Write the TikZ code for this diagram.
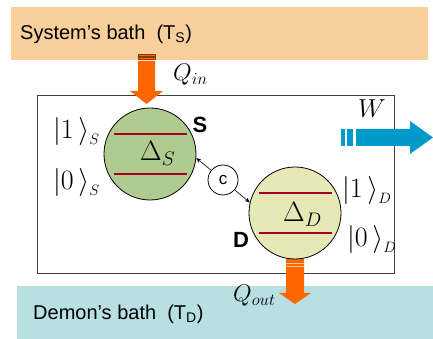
\documentclass[tikz,border=0pt]{standalone}
\usepackage{fix-cm}
\usepackage{amsmath}
\usepackage{fontspec}
\setmainfont{Liberation Sans}
\usetikzlibrary{arrows.meta}
\definecolor{sysbathcol}{HTML}{F9CF9B}
\definecolor{demonbathcol}{HTML}{B8E0E2}
\definecolor{sgreen}{HTML}{AFCB8F}
\definecolor{dyellow}{HTML}{E6E9B5}
\definecolor{levelred}{HTML}{A50021}
\definecolor{heat}{HTML}{FF6600}
\definecolor{heatline}{HTML}{8A3A00}
\definecolor{workblue}{HTML}{0099CC}
\newcommand{\ketlbl}[2]{$|#1\,\rangle$\raisebox{-6pt}{\fontsize{15}{16}\selectfont$#2$}}
\begin{document}
\begin{tikzpicture}[x=1pt, y=1pt,
  bathtext/.style={anchor=west, inner sep=0, font=\fontsize{20}{24}\selectfont},
  qubit/.style={circle, draw=black, line width=0.8pt, minimum size=92pt, inner sep=0},
  level/.style={draw=levelred, line width=2pt},
  mathlbl/.style={anchor=base west, inner sep=0, font=\fontsize{28}{32}\selectfont},
  heatlbl/.style={anchor=base west, inner sep=0, font=\fontsize{24}{28}\selectfont},
  qname/.style={inner sep=0, font=\fontsize{22}{24}\selectfont\bfseries},
  coup/.style={-{Stealth[length=5pt,width=4pt]}, line width=0.6pt}]
  \useasboundingbox (0,0) rectangle (433,339);
  % baths
  \fill[sysbathcol] (11,279) rectangle (428,332);
  \fill[demonbathcol] (17,0) rectangle (433,53);
  \node[bathtext] (sysbath) at (20,305) {System’s bath\ \ (T\textsubscript{S})};
  \node[bathtext] (demonbath) at (33,25) {Demon’s bath\ \ (T\textsubscript{D})};
  % engine box
  \draw[black!75, line width=0.8pt] (37,66) rectangle (394,244);
  % heat in
  \filldraw[fill=heat, draw=heatline, line width=0.5pt] (138,285) rectangle (155,282.5);
  \filldraw[fill=heat, draw=heatline, line width=0.5pt] (138,281.5) rectangle (155,279.5);
  \fill[heat] (138,278) -- (138,248) -- (130,248) -- (146.5,235) -- (163,248)
    -- (155,248) -- (155,278) -- cycle;
  \node[heatlbl] (qin) at (173,258) {$Q_{in}$};
  % heat out
  \fill[heat] (286,80) -- (286,46) -- (279,46) -- (295,35) -- (311,46)
    -- (304,46) -- (304,80) -- cycle;
  \foreach \y in {76,73}
    \draw[heat!40!white, line width=0.6pt] (286,\y) -- (304,\y);
  \node[heatlbl] (qout) at (233,37) {$Q_{out}$};
  % work
  \fill[workblue] (341,210) rectangle (345,193);
  \fill[workblue] (347,210) rectangle (353,193);
  \fill[workblue] (356,210) -- (410,210) -- (410,218) -- (433,201.5) -- (410,185)
    -- (410,193) -- (356,193) -- cycle;
  \node[heatlbl, font=\fontsize{26}{30}\selectfont] (work) at (358,221) {$W$};
  % qubits
  \node[qubit, fill=sgreen] (S) at (150,185) {};
  \node[qubit, fill=dyellow] (D) at (295,126) {};
  \foreach \q in {S,D} {
    \draw[level] ([shift={(-36,20)}]\q.center) -- ([shift={(37,20)}]\q.center);
    \draw[level] ([shift={(-36,-20)}]\q.center) -- ([shift={(37,-20)}]\q.center);
  }
  \node[mathlbl] (gapS) at (140,178) {$\Delta_S$};
  \node[mathlbl] (gapD) at (283,117) {$\Delta_D$};
  \node[qname] (nameS) at (200,214) {S};
  \node[qname] (nameD) at (241,99) {D};
  \node[mathlbl] (oneS) at (53,200) {\ketlbl{1}{S}};
  \node[mathlbl] (zeroS) at (53,149) {\ketlbl{0}{S}};
  \node[mathlbl] (oneD) at (342,141) {\ketlbl{1}{D}};
  \node[mathlbl] (zeroD) at (347,92) {\ketlbl{0}{D}};
  % coupling
  \node[circle, draw, line width=0.8pt, minimum size=30pt, inner sep=0,
    font=\fontsize{17}{18}\selectfont] (c) at (223,159) {c};
  \draw[coup] (c) -- (S.-5);
  \draw[coup] (c) -- (D.167);
\end{tikzpicture}
\end{document}
